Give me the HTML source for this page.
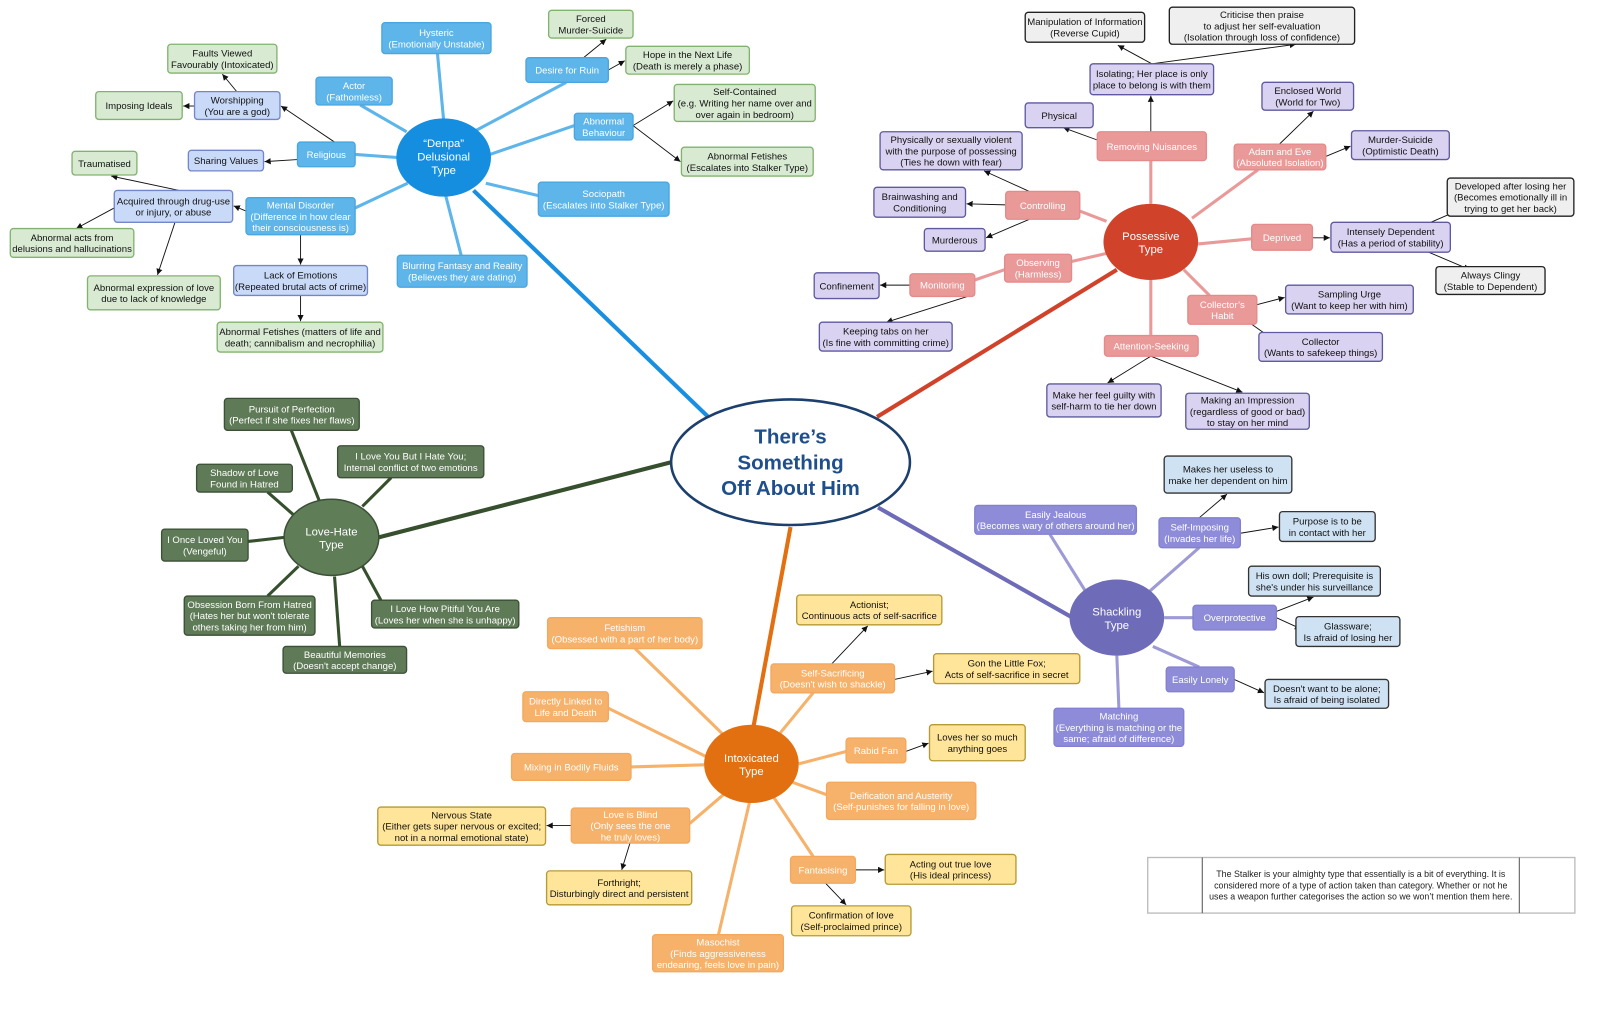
<!DOCTYPE html>
<html><head><meta charset="utf-8">
<style>
html,body{margin:0;padding:0;background:#fff;}
svg{display:block;}
text{font-family:"Liberation Sans",Arial,sans-serif;font-size:9.3px;text-anchor:middle;}
.b rect{fill:#5db5ea;stroke:#4aa6e0;}
.b text{fill:#fff;}
.g rect{fill:#d9ead3;stroke:#82b36e;}
.g text{fill:#111;}
.bp rect{fill:#c9daf8;stroke:#7286c9;}
.bp text{fill:#111;}
.p rect{fill:#ea9999;stroke:#e58a8a;}
.p text{fill:#fff;}
.pu rect{fill:#d9d2f0;stroke:#5e5aa0;}
.pu text{fill:#111;}
.gr rect{fill:#efefef;stroke:#222;}
.gr text{fill:#111;}
.l rect{fill:#8e8cd8;stroke:#8380cf;}
.l text{fill:#fff;}
.lb rect{fill:#cfe2f3;stroke:#333;}
.lb text{fill:#111;}
.o rect{fill:#f6b26b;stroke:#f3a85c;}
.o text{fill:#fff;}
.y rect{fill:#ffe599;stroke:#b59a35;}
.y text{fill:#111;}
.dg rect{fill:#5f7a56;stroke:#3c4f37;}
.dg text{fill:#fff;}
rect{stroke-width:1.3;}
.ar line{stroke:#111;stroke-width:0.9;marker-end:url(#ah);}
</style></head><body>
<svg width="1614" height="1015" viewBox="0 0 1568 986" preserveAspectRatio="none" xmlns="http://www.w3.org/2000/svg">
<defs><marker id="ah" markerWidth="7" markerHeight="7" refX="6" refY="3" orient="auto" markerUnits="userSpaceOnUse"><path d="M0,0 L6,3 L0,6 z" fill="#111"/></marker></defs>

<!-- main connectors -->
<line x1="688" y1="405" x2="460" y2="185" stroke="#1a8fe0" stroke-width="4"/>
<line x1="852" y1="405" x2="1085" y2="262" stroke="#d0432a" stroke-width="4"/>
<line x1="652" y1="449" x2="368" y2="522" stroke="#36502e" stroke-width="4"/>
<line x1="853" y1="493" x2="1042" y2="600" stroke="#6e6bb8" stroke-width="4"/>
<line x1="768" y1="512" x2="732" y2="706" stroke="#e37010" stroke-width="4"/>

<!-- secondary connectors -->
<g stroke="#5db5ea" stroke-width="3">
<line x1="425" y1="52" x2="431" y2="117"/><line x1="350" y1="102" x2="395" y2="128"/>
<line x1="550" y1="80" x2="460" y2="128"/><line x1="558" y1="122" x2="476" y2="150"/>
<line x1="345" y1="150" x2="386" y2="153"/><line x1="345" y1="202" x2="396" y2="178"/>
<line x1="523" y1="190" x2="472" y2="178"/><line x1="448" y1="248" x2="433" y2="190"/>
</g>
<g stroke="#ea9999" stroke-width="3">
<line x1="1118" y1="156" x2="1118" y2="198"/><line x1="1222" y1="165" x2="1158" y2="212"/>
<line x1="1049" y1="205" x2="1075" y2="215"/><line x1="1164" y1="237" x2="1216" y2="232"/>
<line x1="1041" y1="254" x2="1080" y2="245"/><line x1="947" y1="272" x2="976" y2="262"/>
<line x1="1175" y1="287" x2="1150" y2="262"/><line x1="1118" y1="326" x2="1118" y2="272"/>
</g>
<g stroke="#9d9ad6" stroke-width="3">
<line x1="1020" y1="519" x2="1055" y2="575"/><line x1="1165" y1="532" x2="1115" y2="576"/>
<line x1="1131" y1="600" x2="1159" y2="600"/><line x1="1165" y1="648" x2="1120" y2="628"/>
<line x1="1087" y1="688" x2="1085" y2="637"/>
</g>
<g stroke="#f6b26b" stroke-width="3">
<line x1="617" y1="630" x2="702" y2="713"/><line x1="790" y1="673" x2="758" y2="712"/>
<line x1="591" y1="688" x2="688" y2="736"/><line x1="613" y1="745" x2="684" y2="743"/>
<line x1="822" y1="730" x2="776" y2="742"/><line x1="803" y1="772" x2="770" y2="760"/>
<line x1="670" y1="800" x2="705" y2="770"/><line x1="790" y1="832" x2="752" y2="775"/>
<line x1="698" y1="908" x2="728" y2="780"/>
</g>
<g stroke="#36502e" stroke-width="3">
<line x1="283" y1="418" x2="310" y2="486"/><line x1="380" y1="464" x2="352" y2="492"/>
<line x1="260" y1="478" x2="285" y2="500"/><line x1="241" y1="526" x2="276" y2="522"/>
<line x1="260" y1="579" x2="290" y2="550"/><line x1="370" y1="583" x2="352" y2="550"/>
<line x1="330" y1="628" x2="325" y2="560"/>
</g>

<!-- arrows -->
<g class="ar">
<line x1="567" y1="56" x2="589" y2="38"/><line x1="591" y1="68" x2="607" y2="59"/>
<line x1="615" y1="122" x2="654" y2="98"/><line x1="615" y1="122" x2="661" y2="157"/>
<line x1="325" y1="138" x2="273" y2="103"/><line x1="289" y1="155" x2="257" y2="157"/>
<line x1="230" y1="89" x2="216" y2="72"/><line x1="189" y1="103" x2="178" y2="103"/>
<line x1="239" y1="205" x2="227" y2="200"/><line x1="292" y1="228" x2="292" y2="257"/>
<line x1="292" y1="287" x2="292" y2="312"/><line x1="174" y1="185" x2="108" y2="171"/>
<line x1="111" y1="202" x2="74" y2="222"/><line x1="170" y1="216" x2="153" y2="267"/>

<line x1="1119" y1="62" x2="1086" y2="44"/><line x1="1119" y1="62" x2="1259" y2="43"/>
<line x1="1118" y1="128" x2="1118" y2="93"/><line x1="1066" y1="136" x2="1033" y2="124"/>
<line x1="1000" y1="186" x2="956" y2="166"/><line x1="977" y1="199" x2="939" y2="198"/>
<line x1="1000" y1="213" x2="958" y2="231"/><line x1="884" y1="277" x2="855" y2="277"/>
<line x1="940" y1="288" x2="861" y2="313"/><line x1="1243" y1="140" x2="1276" y2="108"/>
<line x1="1288" y1="152" x2="1312" y2="142"/><line x1="1275" y1="231" x2="1292" y2="231"/>
<line x1="1390" y1="216" x2="1443" y2="193"/><line x1="1388" y1="245" x2="1428" y2="262"/>
<line x1="1221" y1="296" x2="1248" y2="289"/><line x1="1216" y1="315" x2="1250" y2="339"/>
<line x1="1118" y1="346" x2="1076" y2="372"/><line x1="1118" y1="346" x2="1207" y2="381"/>

<line x1="1165" y1="503" x2="1192" y2="480"/><line x1="1205" y1="518" x2="1242" y2="512"/>
<line x1="1240" y1="594" x2="1276" y2="580"/><line x1="1240" y1="600" x2="1264" y2="611"/>
<line x1="1199" y1="660" x2="1228" y2="673"/>

<line x1="808" y1="645" x2="843" y2="608"/><line x1="869" y1="660" x2="906" y2="652"/>
<line x1="880" y1="730" x2="902" y2="722"/><line x1="555" y1="802" x2="531" y2="802"/>
<line x1="612" y1="819" x2="604" y2="845"/><line x1="831" y1="845" x2="859" y2="845"/>
<line x1="802" y1="858" x2="822" y2="879"/>
</g>

<!-- hubs -->
<ellipse cx="431" cy="153" rx="46" ry="38" fill="#168ee0"/>
<text x="431" y="143" fill="#fff" style="font-size:11px">“Denpa”</text>
<text x="431" y="156" fill="#fff" style="font-size:11px">Delusional</text>
<text x="431" y="169" fill="#fff" style="font-size:11px">Type</text>

<ellipse cx="1118" cy="235" rx="46" ry="37" fill="#d0432a"/>
<text x="1118" y="233" fill="#fff" style="font-size:11px">Possessive</text>
<text x="1118" y="246" fill="#fff" style="font-size:11px">Type</text>

<ellipse cx="1085" cy="600" rx="46" ry="37" fill="#6e6bb8"/>
<text x="1085" y="598" fill="#fff" style="font-size:11px">Shackling</text>
<text x="1085" y="611" fill="#fff" style="font-size:11px">Type</text>

<ellipse cx="730" cy="742" rx="46" ry="38" fill="#e37010"/>
<text x="730" y="740" fill="#fff" style="font-size:11px">Intoxicated</text>
<text x="730" y="753" fill="#fff" style="font-size:11px">Type</text>

<ellipse cx="322" cy="522" rx="46" ry="37" fill="#5f7d57" stroke="#3c4f37" stroke-width="1.5"/>
<text x="322" y="520" fill="#fff" style="font-size:11px">Love-Hate</text>
<text x="322" y="533" fill="#fff" style="font-size:11px">Type</text>

<ellipse cx="768" cy="449" rx="116" ry="61" fill="#fff" stroke="#1c3f6e" stroke-width="2.5"/>
<text x="768" y="431" fill="#1f4e8c" style="font-size:20px;font-weight:bold">There’s</text>
<text x="768" y="456" fill="#1f4e8c" style="font-size:20px;font-weight:bold">Something</text>
<text x="768" y="481" fill="#1f4e8c" style="font-size:20px;font-weight:bold">Off About Him</text>

<!-- Denpa -->
<g class="b">
<rect x="371" y="22" width="106" height="30" rx="3"/><text x="424" y="35">Hysteric</text><text x="424" y="46">(Emotionally Unstable)</text>
<rect x="307" y="75" width="74" height="27" rx="3"/><text x="344" y="86.5">Actor</text><text x="344" y="97.5">(Fathomless)</text>
<rect x="511" y="56" width="80" height="24" rx="3"/><text x="551" y="71.5">Desire for Ruin</text>
<rect x="558" y="110" width="57" height="26" rx="3"/><text x="586.5" y="121">Abnormal</text><text x="586.5" y="132">Behaviour</text>
<rect x="289" y="138" width="56" height="24" rx="3"/><text x="317" y="153.5">Religious</text>
<rect x="239" y="192" width="106" height="36" rx="3"/><text x="292" y="202.5">Mental Disorder</text><text x="292" y="213.5">(Difference in how clear</text><text x="292" y="224.5">their consciousness is)</text>
<rect x="523" y="177" width="127" height="33" rx="3"/><text x="586.5" y="191.5">Sociopath</text><text x="586.5" y="202.5">(Escalates into Stalker Type)</text>
<rect x="386" y="248" width="126" height="31" rx="3"/><text x="449" y="261.5">Blurring Fantasy and Reality</text><text x="449" y="272.5">(Believes they are dating)</text>
</g>
<g class="g">
<rect x="533" y="10" width="82" height="27" rx="3"/><text x="574" y="21.5">Forced</text><text x="574" y="32.5">Murder-Suicide</text>
<rect x="608" y="45" width="120" height="27" rx="3"/><text x="668" y="56.5">Hope in the Next Life</text><text x="668" y="67.5">(Death is merely a phase)</text>
<rect x="655" y="82" width="137" height="36" rx="3"/><text x="723.5" y="92.5">Self-Contained</text><text x="723.5" y="103.5">(e.g. Writing her name over and</text><text x="723.5" y="114.5">over again in bedroom)</text>
<rect x="662" y="143" width="128" height="28" rx="3"/><text x="726" y="155">Abnormal Fetishes</text><text x="726" y="166">(Escalates into Stalker Type)</text>
<rect x="163" y="43" width="106" height="28" rx="3"/><text x="216" y="55">Faults Viewed</text><text x="216" y="66">Favourably (Intoxicated)</text>
<rect x="93" y="89" width="84" height="27" rx="3"/><text x="135" y="106">Imposing Ideals</text>
<rect x="70" y="147" width="63" height="23" rx="3"/><text x="101.5" y="162">Traumatised</text>
<rect x="10" y="222" width="120" height="28" rx="3"/><text x="70" y="234">Abnormal acts from</text><text x="70" y="245">delusions and hallucinations</text>
<rect x="85" y="268" width="129" height="33" rx="3"/><text x="149.5" y="282.5">Abnormal expression of love</text><text x="149.5" y="293.5">due to lack of knowledge</text>
<rect x="211" y="313" width="161" height="29" rx="3"/><text x="291.5" y="325.5">Abnormal Fetishes (matters of life and</text><text x="291.5" y="336.5">death; cannibalism and necrophilia)</text>
</g>
<g class="bp">
<rect x="189" y="89" width="83" height="27" rx="3"/><text x="230.5" y="100.5">Worshipping</text><text x="230.5" y="111.5">(You are a god)</text>
<rect x="183" y="146" width="73" height="20" rx="3"/><text x="219.5" y="159.5">Sharing Values</text>
<rect x="111" y="185" width="115" height="31" rx="3"/><text x="168.5" y="198.5">Acquired through drug-use</text><text x="168.5" y="209.5">or injury, or abuse</text>
<rect x="227" y="258" width="130" height="29" rx="3"/><text x="292" y="270.5">Lack of Emotions</text><text x="292" y="281.5">(Repeated brutal acts of crime)</text>
</g>

<!-- Possessive -->
<g class="p">
<rect x="1066" y="128" width="106" height="28" rx="3"/><text x="1119" y="145.5">Removing Nuisances</text>
<rect x="1199" y="140" width="89" height="25" rx="3"/><text x="1243.5" y="150.5">Adam and Eve</text><text x="1243.5" y="161.5">(Absoluted Isolation)</text>
<rect x="977" y="186" width="72" height="27" rx="3"/><text x="1013" y="203">Controlling</text>
<rect x="1216" y="218" width="59" height="25" rx="3"/><text x="1245.5" y="234">Deprived</text>
<rect x="976" y="247" width="65" height="27" rx="3"/><text x="1008.5" y="258.5">Observing</text><text x="1008.5" y="269.5">(Harmless)</text>
<rect x="884" y="266" width="63" height="22" rx="3"/><text x="915.5" y="280.5">Monitoring</text>
<rect x="1154" y="287" width="67" height="28" rx="3"/><text x="1187.5" y="299">Collector’s</text><text x="1187.5" y="310">Habit</text>
<rect x="1073" y="326" width="91" height="20" rx="3"/><text x="1118.5" y="339.5">Attention-Seeking</text>
</g>
<g class="pu">
<rect x="1059" y="62" width="120" height="30" rx="3"/><text x="1119" y="75">Isolating; Her place is only</text><text x="1119" y="86">place to belong is with them</text>
<rect x="996" y="100" width="66" height="24" rx="3"/><text x="1029" y="115.5">Physical</text>
<rect x="855" y="128" width="138" height="37" rx="3"/><text x="924" y="139">Physically or sexually violent</text><text x="924" y="150">with the purpose of possessing</text><text x="924" y="161">(Ties he down with fear)</text>
<rect x="849" y="182" width="89" height="29" rx="3"/><text x="893.5" y="194.5">Brainwashing and</text><text x="893.5" y="205.5">Conditioning</text>
<rect x="898" y="222" width="59" height="22" rx="3"/><text x="927.5" y="236.5">Murderous</text>
<rect x="791" y="265" width="63" height="25" rx="3"/><text x="822.5" y="281">Confinement</text>
<rect x="796" y="313" width="129" height="28" rx="3"/><text x="860.5" y="325">Keeping tabs on her</text><text x="860.5" y="336">(Is fine with committing crime)</text>
<rect x="1226" y="80" width="89" height="27" rx="3"/><text x="1270.5" y="91.5">Enclosed World</text><text x="1270.5" y="102.5">(World for Two)</text>
<rect x="1313" y="127" width="95" height="28" rx="3"/><text x="1360.5" y="139">Murder-Suicide</text><text x="1360.5" y="150">(Optimistic Death)</text>
<rect x="1293" y="216" width="116" height="29" rx="3"/><text x="1351" y="228.5">Intensely Dependent</text><text x="1351" y="239.5">(Has a period of stability)</text>
<rect x="1249" y="277" width="124" height="28" rx="3"/><text x="1311" y="289">Sampling Urge</text><text x="1311" y="300">(Want to keep her with him)</text>
<rect x="1223" y="323" width="120" height="28" rx="3"/><text x="1283" y="335">Collector</text><text x="1283" y="346">(Wants to safekeep things)</text>
<rect x="1017" y="373" width="111" height="32" rx="3"/><text x="1072.5" y="387">Make her feel guilty with</text><text x="1072.5" y="398">self-harm to tie her down</text>
<rect x="1152" y="382" width="120" height="35" rx="3"/><text x="1212" y="392">Making an Impression</text><text x="1212" y="403">(regardless of good or bad)</text><text x="1212" y="414">to stay on her mind</text>
</g>
<g class="gr">
<rect x="996" y="12" width="116" height="29" rx="3"/><text x="1054" y="24.5">Manipulation of Information</text><text x="1054" y="35.5">(Reverse Cupid)</text>
<rect x="1136" y="7" width="180" height="36" rx="3"/><text x="1226" y="17.5">Criticise then praise</text><text x="1226" y="28.5">to adjust her self-evaluation</text><text x="1226" y="39.5">(Isolation through loss of confidence)</text>
<rect x="1406" y="173" width="123" height="37" rx="3"/><text x="1467.5" y="184">Developed after losing her</text><text x="1467.5" y="195">(Becomes emotionally ill in</text><text x="1467.5" y="206">trying to get her back)</text>
<rect x="1395" y="259" width="106" height="27" rx="3"/><text x="1448" y="270.5">Always Clingy</text><text x="1448" y="281.5">(Stable to Dependent)</text>
</g>

<!-- Shackling -->
<g class="l">
<rect x="947" y="491" width="157" height="28" rx="3"/><text x="1025.5" y="503">Easily Jealous</text><text x="1025.5" y="514">(Becomes wary of others around her)</text>
<rect x="1126" y="503" width="79" height="29" rx="3"/><text x="1165.5" y="515.5">Self-Imposing</text><text x="1165.5" y="526.5">(Invades her life)</text>
<rect x="1159" y="588" width="81" height="24" rx="3"/><text x="1199.5" y="603.5">Overprotective</text>
<rect x="1133" y="648" width="66" height="24" rx="3"/><text x="1166" y="663.5">Easily Lonely</text>
<rect x="1024" y="688" width="126" height="37" rx="3"/><text x="1087" y="699">Matching</text><text x="1087" y="710">(Everything is matching or the</text><text x="1087" y="721">same; afraid of difference)</text>
</g>
<g class="lb">
<rect x="1131" y="443" width="124" height="36" rx="3"/><text x="1193" y="459">Makes her useless to</text><text x="1193" y="470">make her dependent on him</text>
<rect x="1243" y="497" width="93" height="29" rx="3"/><text x="1289.5" y="509.5">Purpose is to be</text><text x="1289.5" y="520.5">in contact with her</text>
<rect x="1213" y="550" width="128" height="29" rx="3"/><text x="1277" y="562.5">His own doll; Prerequisite is</text><text x="1277" y="573.5">she's under his surveillance</text>
<rect x="1259" y="599" width="101" height="29" rx="3"/><text x="1309.5" y="611.5">Glassware;</text><text x="1309.5" y="622.5">Is afraid of losing her</text>
<rect x="1229" y="660" width="120" height="28" rx="3"/><text x="1289" y="672">Doesn't want to be alone;</text><text x="1289" y="683">Is afraid of being isolated</text>
</g>

<!-- Intoxicated -->
<g class="o">
<rect x="532" y="600" width="150" height="30" rx="3"/><text x="607" y="613">Fetishism</text><text x="607" y="624">(Obsessed with a part of her body)</text>
<rect x="749" y="645" width="120" height="28" rx="3"/><text x="809" y="657">Self-Sacrificing</text><text x="809" y="668">(Doesn't wish to shackle)</text>
<rect x="508" y="672" width="83" height="29" rx="3"/><text x="549.5" y="684.5">Directly Linked to</text><text x="549.5" y="695.5">Life and Death</text>
<rect x="497" y="732" width="116" height="26" rx="3"/><text x="555" y="748.5">Mixing in Bodily Fluids</text>
<rect x="822" y="717" width="58" height="24" rx="3"/><text x="851" y="732.5">Rabid Fan</text>
<rect x="803" y="760" width="145" height="36" rx="3"/><text x="875.5" y="776">Deification and Austerity</text><text x="875.5" y="787">(Self-punishes for falling in love)</text>
<rect x="555" y="785" width="115" height="34" rx="3"/><text x="612.5" y="794.5">Love is Blind</text><text x="612.5" y="805.5">(Only sees the one</text><text x="612.5" y="816.5">he truly loves)</text>
<rect x="768" y="832" width="63" height="26" rx="3"/><text x="799.5" y="848.5">Fantasising</text>
<rect x="634" y="908" width="127" height="36" rx="3"/><text x="697.5" y="918.5">Masochist</text><text x="697.5" y="929.5">(Finds aggressiveness</text><text x="697.5" y="940.5">endearing, feels love in pain)</text>
</g>
<g class="y">
<rect x="774" y="578" width="141" height="29" rx="3"/><text x="844.5" y="590.5">Actionist;</text><text x="844.5" y="601.5">Continuous acts of self-sacrifice</text>
<rect x="907" y="635" width="142" height="29" rx="3"/><text x="978" y="647.5">Gon the Little Fox;</text><text x="978" y="658.5">Acts of self-sacrifice in secret</text>
<rect x="903" y="704" width="93" height="35" rx="3"/><text x="949.5" y="719.5">Loves her so much</text><text x="949.5" y="730.5">anything goes</text>
<rect x="367" y="784" width="163" height="37" rx="3"/><text x="448.5" y="795">Nervous State</text><text x="448.5" y="806">(Either gets super nervous or excited;</text><text x="448.5" y="817">not in a normal emotional state)</text>
<rect x="531" y="846" width="141" height="33" rx="3"/><text x="601.5" y="860.5">Forthright;</text><text x="601.5" y="871.5">Disturbingly direct and persistent</text>
<rect x="860" y="830" width="127" height="29" rx="3"/><text x="923.5" y="842.5">Acting out true love</text><text x="923.5" y="853.5">(His ideal princess)</text>
<rect x="769" y="880" width="116" height="29" rx="3"/><text x="827" y="892.5">Confirmation of love</text><text x="827" y="903.5">(Self-proclaimed prince)</text>
</g>

<!-- Love-Hate -->
<g class="dg">
<rect x="218" y="387" width="131" height="31" rx="3"/><text x="283.5" y="400.5">Pursuit of Perfection</text><text x="283.5" y="411.5">(Perfect if she fixes her flaws)</text>
<rect x="328" y="433" width="142" height="31" rx="3"/><text x="399" y="446.5">I Love You But I Hate You;</text><text x="399" y="457.5">Internal conflict of two emotions</text>
<rect x="191" y="451" width="93" height="27" rx="3"/><text x="237.5" y="462.5">Shadow of Love</text><text x="237.5" y="473.5">Found in Hatred</text>
<rect x="157" y="514" width="84" height="31" rx="3"/><text x="199" y="527.5">I Once Loved You</text><text x="199" y="538.5">(Vengeful)</text>
<rect x="179" y="579" width="127" height="38" rx="3"/><text x="242.5" y="590.5">Obsession Born From Hatred</text><text x="242.5" y="601.5">(Hates her but won't tolerate</text><text x="242.5" y="612.5">others taking her from him)</text>
<rect x="361" y="583" width="143" height="27" rx="3"/><text x="432.5" y="594.5">I Love How Pitiful You Are</text><text x="432.5" y="605.5">(Loves her when she is unhappy)</text>
<rect x="275" y="628" width="120" height="26" rx="3"/><text x="335" y="639">Beautiful Memories</text><text x="335" y="650">(Doesn't accept change)</text>
</g>

<!-- note -->
<rect x="1115" y="833" width="415" height="54" fill="#fff" stroke="#bbb" stroke-width="1"/>
<line x1="1168" y1="833" x2="1168" y2="887" stroke="#555" stroke-width="1"/>
<line x1="1476" y1="833" x2="1476" y2="887" stroke="#555" stroke-width="1"/>
<text x="1322" y="852" fill="#222" style="font-size:8.6px">The Stalker is your almighty type that essentially is a bit of everything. It is</text>
<text x="1322" y="863" fill="#222" style="font-size:8.6px">considered more of a type of action taken than category. Whether or not he</text>
<text x="1322" y="874" fill="#222" style="font-size:8.6px">uses a weapon further categorises the action so we won’t mention them here.</text>
</svg>
</body></html>
